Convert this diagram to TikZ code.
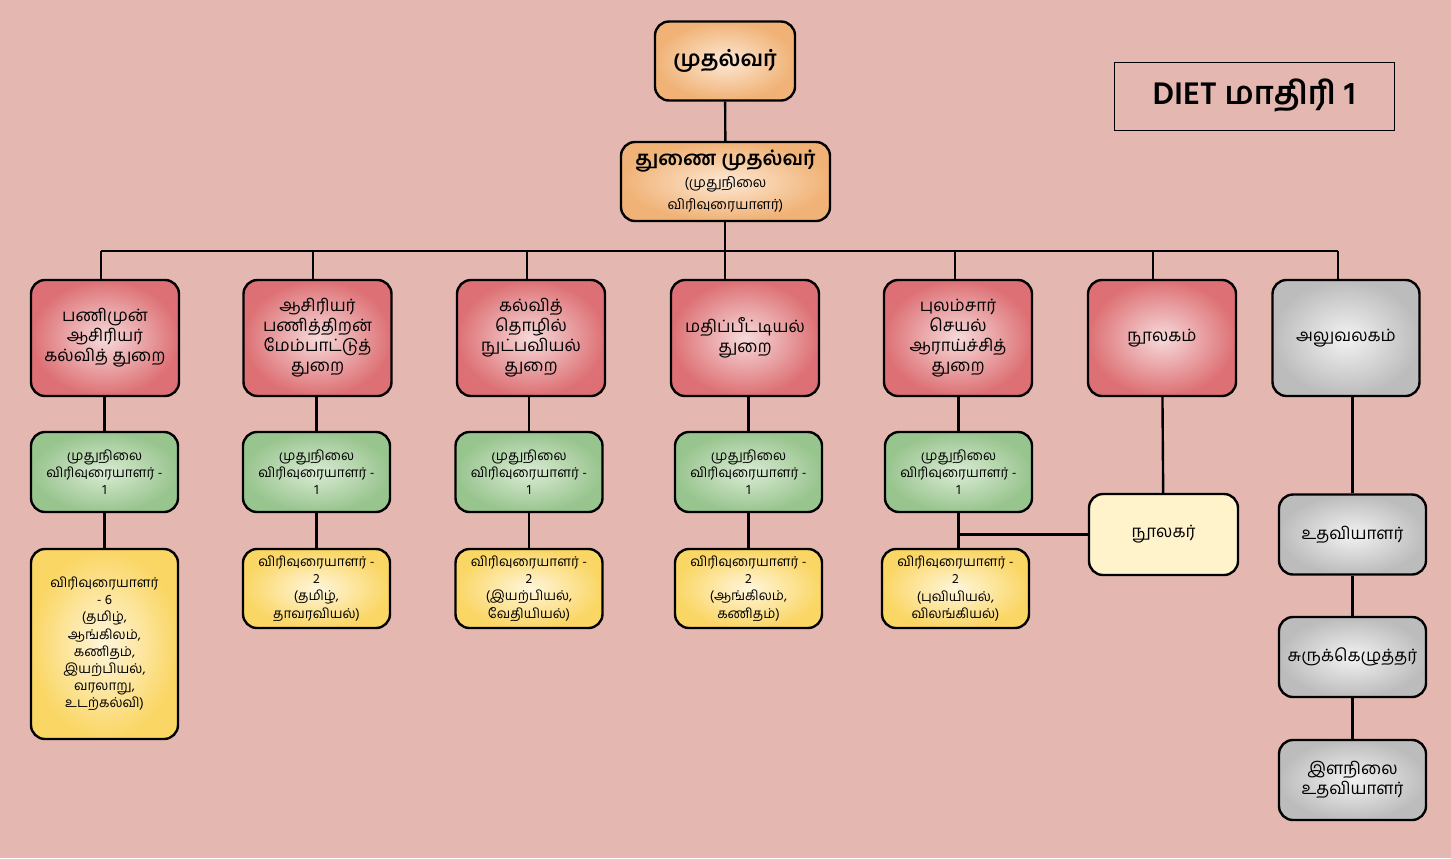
\documentclass[tikz,border=0pt]{standalone}
\usepackage{fontspec}
\setmainfont[Script=Tamil]{Hind Madurai}
\usetikzlibrary{positioning}
\definecolor{bgpink}{RGB}{229,183,177}
\definecolor{redout}{RGB}{221,112,116}
\definecolor{redin}{RGB}{246,218,218}
\definecolor{greenout}{RGB}{152,196,142}
\definecolor{greenin}{RGB}{218,236,212}
\definecolor{yelout}{RGB}{250,214,100}
\definecolor{yelin}{RGB}{255,246,220}
\definecolor{orout}{RGB}{240,178,118}
\definecolor{orin}{RGB}{253,232,212}
\definecolor{greyout}{RGB}{188,188,188}
\definecolor{greyin}{RGB}{242,242,242}
\definecolor{libfill}{RGB}{255,243,204}

\begin{document}
\begin{tikzpicture}[x=0.5pt,y=-0.5pt,
  box/.style={draw=black,line width=1.2pt,rounded corners=7pt,align=center,
    inner sep=0pt,font=\fontsize{8.5}{10}\selectfont},
  dept/.style={box,shading=radial,inner color=redin,outer color=redout,
    minimum width=74pt,minimum height=58pt},
  senior/.style={box,shading=radial,inner color=greenin,outer color=greenout,
    minimum width=73.5pt,minimum height=40pt,font=\fontsize{6.8}{8.6}\selectfont},
  lect/.style={box,shading=radial,inner color=yelin,outer color=yelout,
    minimum width=73.5pt,minimum height=39.5pt,font=\fontsize{6.8}{8.6}\selectfont},
  head/.style={box,shading=radial,inner color=orin,outer color=orout},
  office/.style={box,shading=radial,inner color=greyin,outer color=greyout,
    minimum width=73.5pt,minimum height=40pt},
  link/.style={line width=1.2pt}]
\fill[bgpink] (0,0) rectangle (1451,858);
\useasboundingbox (0,0) rectangle (1451,858);

% top
\node[head,minimum width=70pt,minimum height=39.5pt,font=\fontsize{11}{13}\bfseries\selectfont] (principal) at (725,61) {முதல்வர்};
\node[head,minimum width=104.5pt,minimum height=39.5pt,font=\fontsize{10}{11}\bfseries\selectfont] (vice) at (725.5,181.5)
  {துணை முதல்வர்\\\fontsize{7}{8.5}\mdseries\itshape\selectfont (முதுநிலை\\\fontsize{7}{8.5}\mdseries\itshape\selectfont விரிவுரையாளர்)};
\node[draw=black,line width=0.5pt,minimum width=140pt,minimum height=34pt,
  font=\fontsize{16}{18}\bfseries\selectfont] (title) at (1254,96) {DIET மாதிரி 1};

% departments
\node[dept] (d1) at (105,338) {பணிமுன்\\ஆசிரியர்\\கல்வித் துறை};
\node[dept] (d2) at (317.5,338) {ஆசிரியர்\\பணித்திறன்\\மேம்பாட்டுத்\\துறை};
\node[dept] (d3) at (531,338) {கல்வித்\\தொழில்\\நுட்பவியல்\\துறை};
\node[dept] (d4) at (745,338) {மதிப்பீட்டியல்\\துறை};
\node[dept] (d5) at (958,338) {புலம்சார்\\செயல்\\ஆராய்ச்சித்\\துறை};
\node[dept] (d6) at (1162,338) {நூலகம்};
\node[office,minimum height=58pt] (d7) at (1346,338) {அலுவலகம்};

% senior lecturers
\node[senior] (s1) at (104.5,472) {முதுநிலை\\விரிவுரையாளர் -\\1};
\node[senior] (s2) at (316.5,472) {முதுநிலை\\விரிவுரையாளர் -\\1};
\node[senior] (s3) at (529,472) {முதுநிலை\\விரிவுரையாளர் -\\1};
\node[senior] (s4) at (748.5,472) {முதுநிலை\\விரிவுரையாளர் -\\1};
\node[senior] (s5) at (958.5,472) {முதுநிலை\\விரிவுரையாளர் -\\1};

% lecturers
\node[lect,minimum height=95pt] (l1) at (104.5,644) {விரிவுரையாளர்\\- 6\\(தமிழ்,\\ஆங்கிலம்,\\கணிதம்,\\இயற்பியல்,\\வரலாறு,\\உடற்கல்வி)};
\node[lect] (l2) at (316.5,588.5) {விரிவுரையாளர் -\\2\\(தமிழ்,\\தாவரவியல்)};
\node[lect] (l3) at (529,588.5) {விரிவுரையாளர் -\\2\\(இயற்பியல்,\\வேதியியல்)};
\node[lect] (l4) at (748.5,588.5) {விரிவுரையாளர் -\\2\\(ஆங்கிலம்,\\கணிதம்)};
\node[lect] (l5) at (955.5,588.5) {விரிவுரையாளர் -\\2\\(புவியியல்,\\விலங்கியல்)};

% library and office staff
\node[box,fill=libfill,minimum width=74.5pt,minimum height=40.5pt] (librarian) at (1163.5,534.5) {நூலகர்};
\node[office] (asst) at (1352.5,534.5) {உதவியாளர்};
\node[office] (steno) at (1352.5,657) {சுருக்கெழுத்தர்};
\node[office] (junior) at (1352.5,780) {இளநிலை\\உதவியாளர்};

% connectors
\coordinate (busL) at (101,251);
\coordinate (busR) at (1338,251);
\draw[link] (principal) -- (vice);
\draw[link] (vice.south -| 725,0) -- (725,0 |- d4.north);
\draw[link] (busL) -- (busR);
\foreach \d/\x in {d1/101,d2/313,d3/527,d5/955,d6/1153,d7/1338}
  \draw[link] (\x,251) -- (\x,0 |- \d.north);
\foreach \i in {1,...,5} {
  \draw[link] (s\i.north) -- (s\i.north |- d\i.south);
  \draw[link] (s\i.south) -- (s\i.south |- l\i.north);
}
\draw[link] (d6) -- (librarian);
\draw[link] (s5.south |- librarian) -- (librarian.west);
\draw[link] (d7.south -| asst) -- (asst);
\draw[link] (asst) -- (steno);
\draw[link] (steno) -- (junior);
\end{tikzpicture}
\end{document}
